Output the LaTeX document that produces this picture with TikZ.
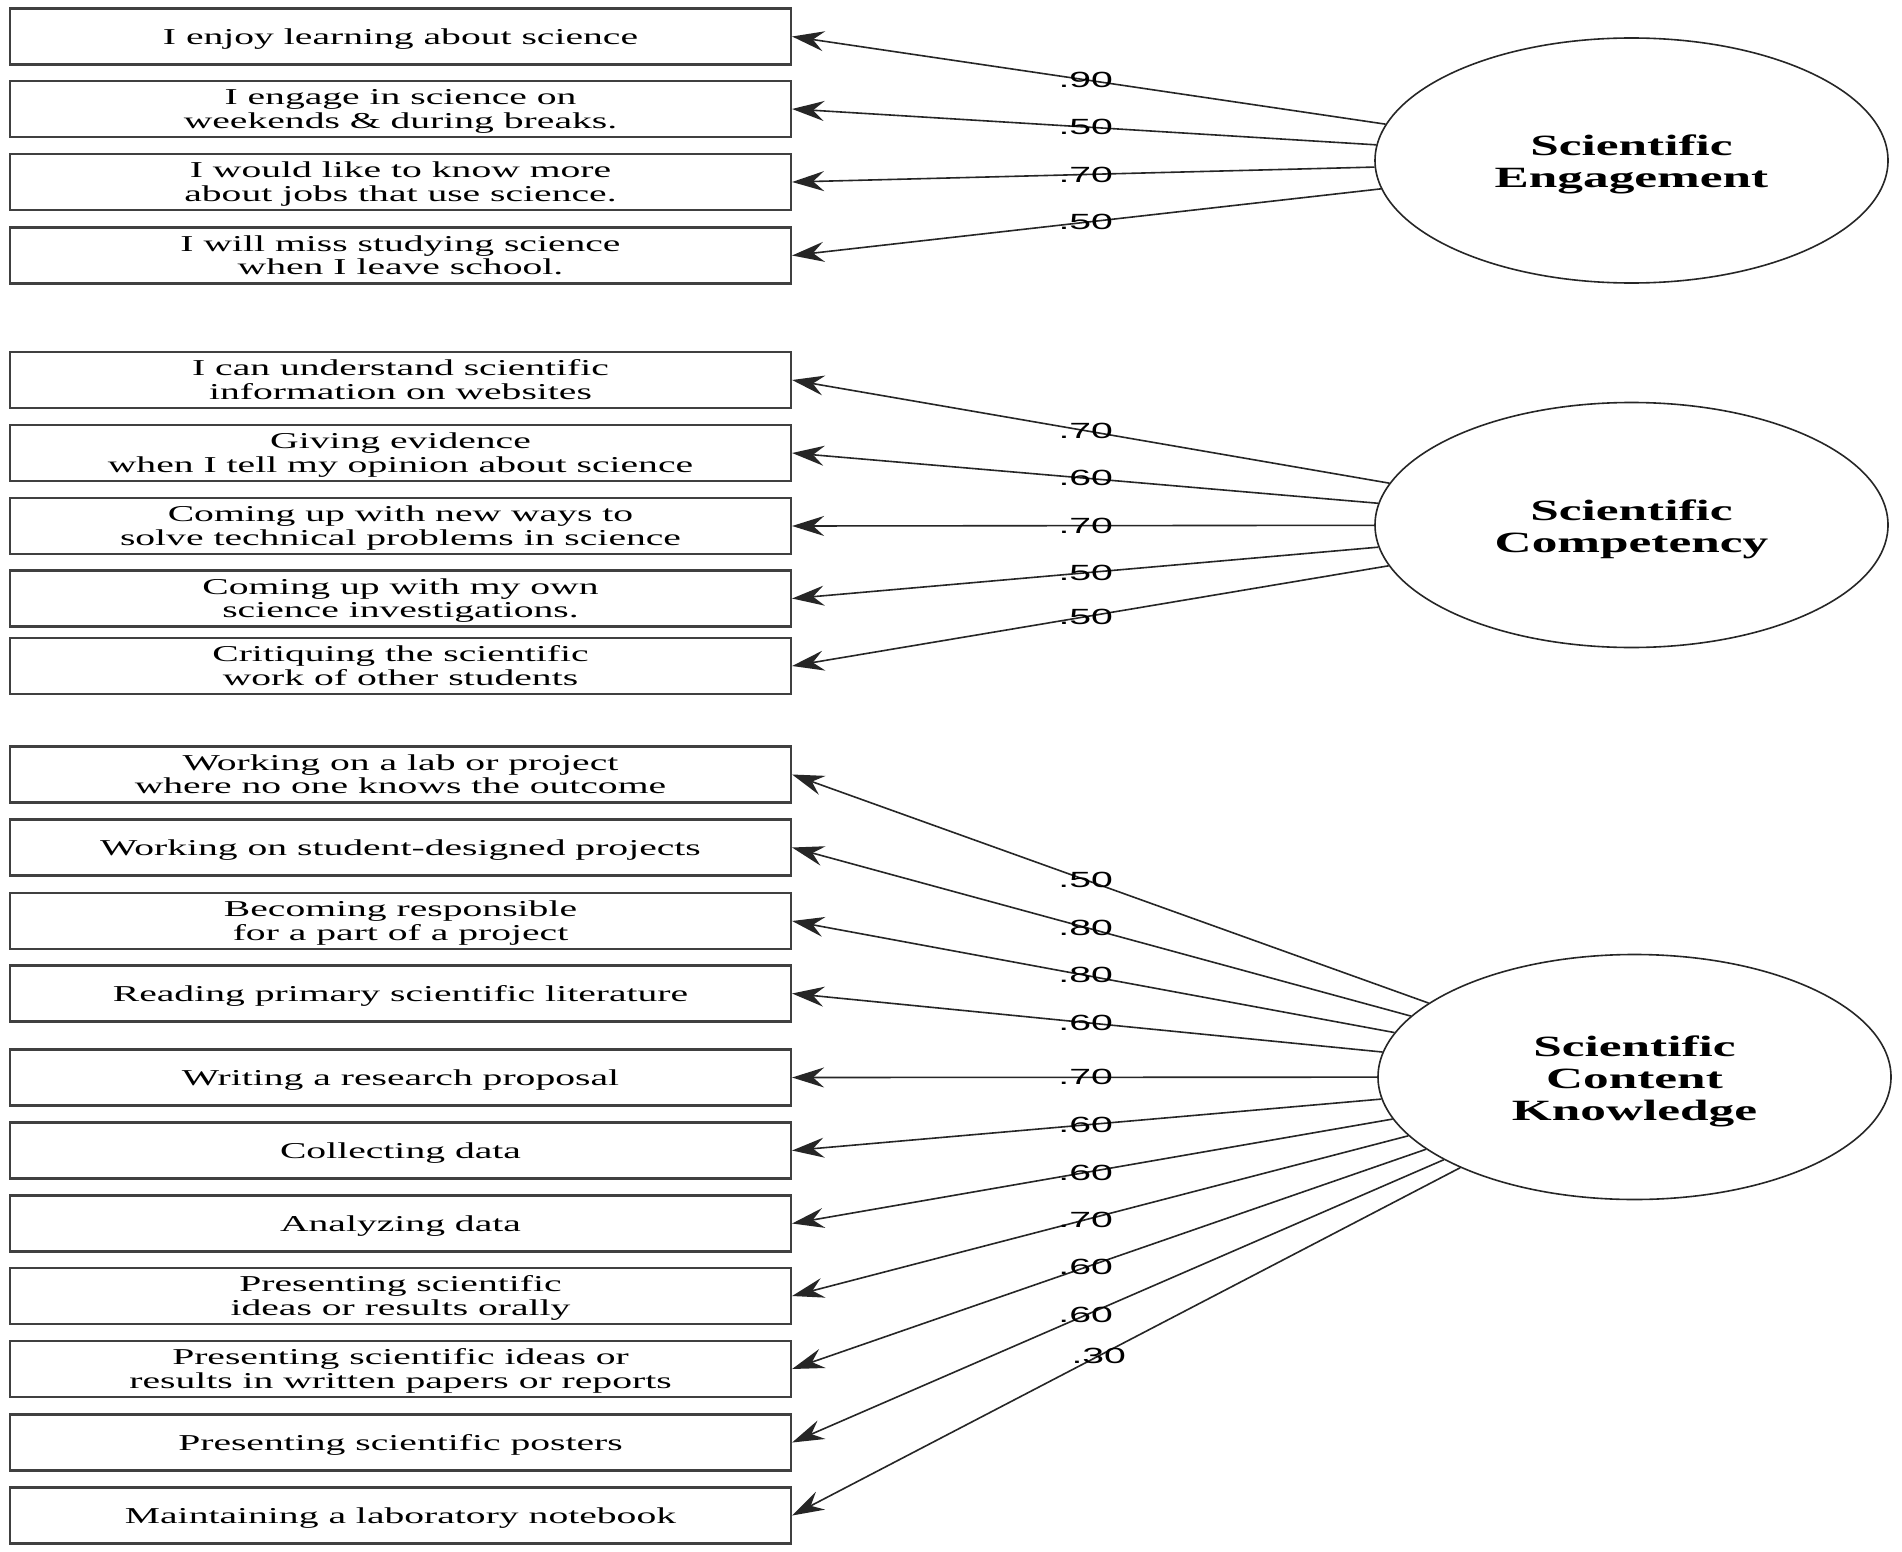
\documentclass[tikz,border=0pt]{standalone}
\usepackage{fontspec}
\setmainfont{Liberation Serif}[FakeStretch=1.745]
\newfontfamily\lblfont{Liberation Sans}[FakeStretch=1.78]
\usetikzlibrary{arrows.meta,shapes.geometric}
\newcommand\itemtext[1]{\raisebox{-1.4pt}[\height][\depth]{\begin{tabular}{@{}c@{}}#1\end{tabular}}}
\newcommand\factortext[1]{\raisebox{-2.5pt}[\height][\depth]{\begin{tabular}{@{}c@{}}#1\end{tabular}}}
\begin{document}
\begin{tikzpicture}[x=0.5pt,y=-0.5pt,
 item/.style={draw=black!75, line width=1.1pt, minimum width=390.5pt, minimum height=28pt, inner sep=0pt, font=\fontsize{11.35pt}{11.8pt}\selectfont},
 factor/.style={ellipse, draw=black!85, line width=0.8pt, minimum width=256.5pt, minimum height=122.5pt, inner sep=0pt, font=\fontsize{14.7pt}{16pt}\selectfont\bfseries},
 conn/.style={draw=black!85, line width=0.8pt, -{Stealth[length=16pt,width=10pt,inset=5.5pt]}},
 lbl/.style={inner sep=0pt, font=\lblfont\fontsize{11pt}{11pt}\selectfont}]
\fill[white] (0,0) rectangle (1902,1552);
\useasboundingbox (0,0) rectangle (1902,1552);

% indicator boxes
\node[item] (b1) at (400.5,36.5) {\itemtext{I enjoy learning about science}};
\node[item] (b2) at (400.5,109) {\itemtext{I engage in science on\\weekends \& during breaks.}};
\node[item] (b3) at (400.5,182) {\itemtext{I would like to know more\\about jobs that use science.}};
\node[item] (b4) at (400.5,255.5) {\itemtext{I will miss studying science\\when I leave school.}};

\node[item] (b5) at (400.5,380) {\itemtext{I can understand scientific\\information on websites}};
\node[item] (b6) at (400.5,453) {\itemtext{Giving evidence\\when I tell my opinion about science}};
\node[item] (b7) at (400.5,526) {\itemtext{Coming up with new ways to\\solve technical problems in science}};
\node[item] (b8) at (400.5,598.5) {\itemtext{Coming up with my own\\science investigations.}};
\node[item] (b9) at (400.5,666) {\itemtext{Critiquing the scientific\\work of other students}};

\node[item] (b10) at (400.5,774.5) {\itemtext{Working on a lab or project\\where no one knows the outcome}};
\node[item] (b11) at (400.5,847.5) {\itemtext{Working on student-designed projects}};
\node[item] (b12) at (400.5,921) {\itemtext{Becoming responsible\\for a part of a project}};
\node[item] (b13) at (400.5,993.5) {\itemtext{Reading primary scientific literature}};
\node[item] (b14) at (400.5,1077.5) {\itemtext{Writing a research proposal}};
\node[item] (b15) at (400.5,1150.5) {\itemtext{Collecting data}};
\node[item] (b16) at (400.5,1223.5) {\itemtext{Analyzing data}};
\node[item] (b17) at (400.5,1296) {\itemtext{Presenting scientific\\ideas or results orally}};
\node[item] (b18) at (400.5,1369) {\itemtext{Presenting scientific ideas or\\results in written papers or reports}};
\node[item] (b19) at (400.5,1442.5) {\itemtext{Presenting scientific posters}};
\node[item] (b20) at (400.5,1515.5) {\itemtext{Maintaining a laboratory notebook}};

% latent factors
\node[factor] (se) at (1631.5,160.5) {\factortext{Scientific\\Engagement}};
\node[factor] (sc) at (1631.5,525) {\factortext{Scientific\\Competency}};
\node[factor] (sk) at (1634.5,1077) {\factortext{Scientific\\Content\\Knowledge}};

% connectors
\foreach \b in {1,...,4} {\draw[conn] (se) -- (b\b.east);}
\foreach \b in {5,...,9} {\draw[conn] (sc) -- (b\b.east);}
\foreach \b in {10,...,20} {\draw[conn] (sk) -- (b\b.east);}

% loadings
\path (b1.east) -- (se.center) node[lbl,pos=0.3498] (l1) {.90};
\path (b2.east) -- (se.center) node[lbl,pos=0.3498] (l2) {.50};
\path (b3.east) -- (se.center) node[lbl,pos=0.3498] (l3) {.70};
\path (b4.east) -- (se.center) node[lbl,pos=0.3498] (l4) {.50};

\path (b5.east) -- (sc.center) node[lbl,pos=0.3498] (l5) {.70};
\path (b6.east) -- (sc.center) node[lbl,pos=0.3498] (l6) {.60};
\path (b7.east) -- (sc.center) node[lbl,pos=0.3498] (l7) {.70};
\path (b8.east) -- (sc.center) node[lbl,pos=0.3498] (l8) {.50};
\path (b9.east) -- (sc.center) node[lbl,pos=0.3498] (l9) {.50};

\path (b10.east) -- (sk.center) node[lbl,pos=0.3485] (l10) {.50};
\path (b11.east) -- (sk.center) node[lbl,pos=0.3485] (l11) {.80};
\path (b12.east) -- (sk.center) node[lbl,pos=0.3485] (l12) {.80};
\path (b13.east) -- (sk.center) node[lbl,pos=0.3485] (l13) {.60};
\path (b14.east) -- (sk.center) node[lbl,pos=0.3485] (l14) {.70};
\path (b15.east) -- (sk.center) node[lbl,pos=0.3485] (l15) {.60};
\path (b16.east) -- (sk.center) node[lbl,pos=0.3485] (l16) {.60};
\path (b17.east) -- (sk.center) node[lbl,pos=0.3485] (l17) {.70};
\path (b18.east) -- (sk.center) node[lbl,pos=0.3485] (l18) {.60};
\path (b19.east) -- (sk.center) node[lbl,pos=0.3485] (l19) {.60};
\path (b20.east) -- (sk.center) node[lbl,pos=0.364] (l20) {.30};
\end{tikzpicture}
\end{document}
